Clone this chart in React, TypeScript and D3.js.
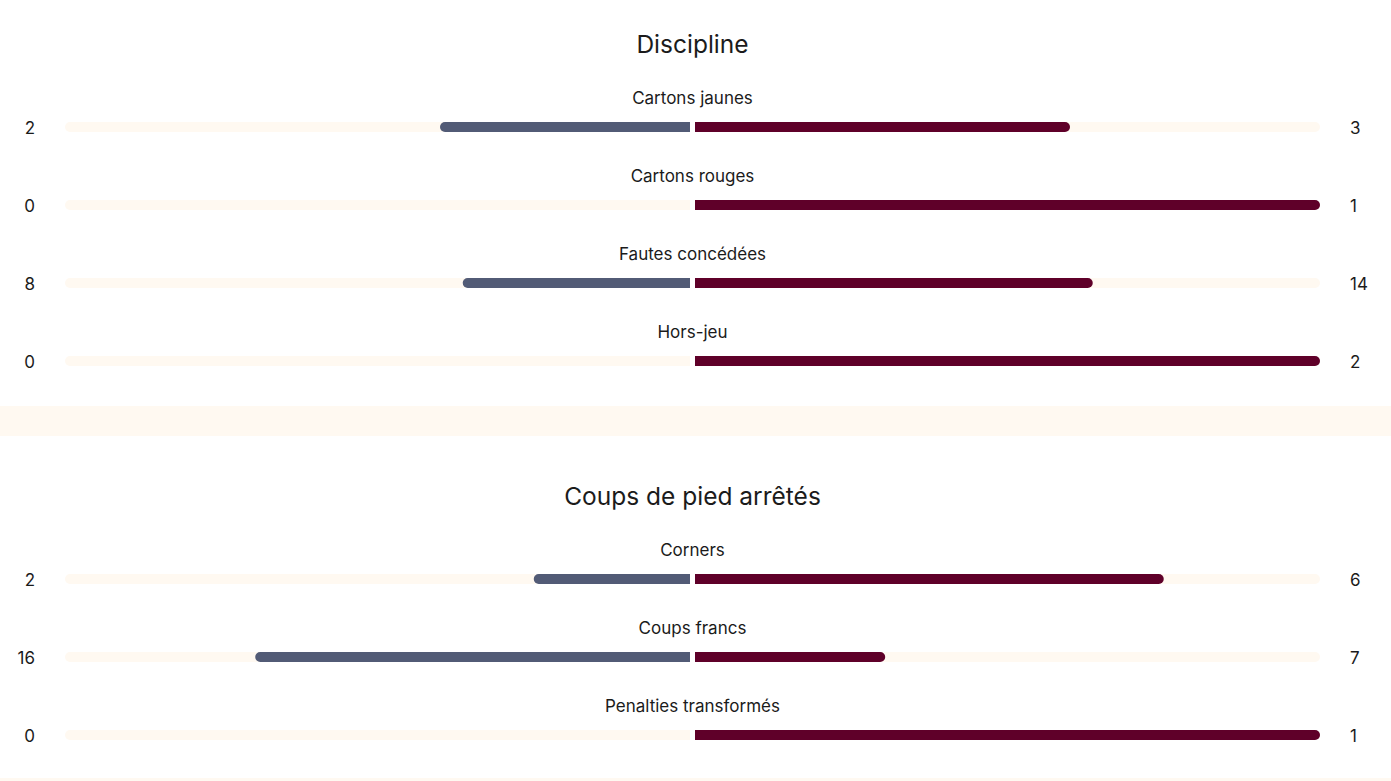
import React from "react";
import * as d3 from "d3";

const sections = ["Discipline", "Coups de pied arrêtés"];
const disciplineLabels = ["Cartons jaunes", "Cartons rouges", "Fautes concédées", "Hors-jeu"];
const disciplineHome = [2, 0, 8, 0];
const disciplineAway = [3, 1, 14, 2];
const setPieceLabels = ["Corners", "Coups francs", "Penalties transformés"];
const setPieceHome = [2, 16, 0];
const setPieceAway = [6, 7, 1];

const W = 1391;
const H = 781;
const GREY = "#525b76";
const MAROON = "#5f0029";
const TRACK = "#fff9f1";
const TEXT = "#1b1b1b";
const FONT = "Inter, 'Open Sans', sans-serif";

const LEFT_OUT = 65;
const LEFT_IN = 690;
const RIGHT_IN = 695;
const RIGHT_OUT = 1320;
const BAR_H = 10;
const R = 5;

const xLeft = d3.scaleLinear().domain([0, 1]).range([LEFT_IN, LEFT_OUT]);
const xRight = d3.scaleLinear().domain([0, 1]).range([RIGHT_IN, RIGHT_OUT]);

function leftBar(x0: number, x1: number, yc: number) {
  const p = d3.path();
  const t = yc - BAR_H / 2;
  const b = yc + BAR_H / 2;
  const r = Math.min(R, (x1 - x0) / 2);
  p.moveTo(x1, t);
  p.lineTo(x0 + r, t);
  p.arc(x0 + r, yc, BAR_H / 2, -Math.PI / 2, Math.PI / 2, true);
  p.lineTo(x1, b);
  p.closePath();
  return p.toString();
}
function rightBar(x0: number, x1: number, yc: number) {
  const p = d3.path();
  const t = yc - BAR_H / 2;
  const b = yc + BAR_H / 2;
  const r = Math.min(R, (x1 - x0) / 2);
  p.moveTo(x0, t);
  p.lineTo(x1 - r, t);
  p.arc(x1 - r, yc, BAR_H / 2, -Math.PI / 2, Math.PI / 2, false);
  p.lineTo(x0, b);
  p.closePath();
  return p.toString();
}

function Row({ label, home, away, y }: { label: string; home: number; away: number; y: number }) {
  const total = home + away;
  const hs = total ? home / total : 0;
  const as = total ? away / total : 0;
  const barY = y + 29;
  return (
    <g>
      <text x={692.5} y={y} textAnchor="middle" dominantBaseline="central" fontSize={17} fill={TEXT} fontFamily={FONT}>
        {label}
      </text>
      <path d={leftBar(xLeft(1), xLeft(0), barY)} fill={TRACK} />
      <path d={rightBar(xRight(0), xRight(1), barY)} fill={TRACK} />
      {home > 0 && <path d={leftBar(xLeft(hs), xLeft(0), barY)} fill={GREY} />}
      {away > 0 && <path d={rightBar(xRight(0), xRight(as), barY)} fill={MAROON} />}
      <text x={35} y={barY + 1} textAnchor="end" dominantBaseline="central" fontSize={17} fill={TEXT} fontFamily={FONT}>
        {home}
      </text>
      <text x={1350} y={barY + 1} textAnchor="start" dominantBaseline="central" fontSize={17} fill={TEXT} fontFamily={FONT}>
        {away}
      </text>
    </g>
  );
}

export default function App() {
  const rowGap = 78;
  return (
    <svg width={W} height={H} style={{ position: "absolute", left: 0, top: 0, background: "#fff" }}>
      <rect x={0} y={406} width={W} height={30} fill={TRACK} />
      <rect x={0} y={778} width={W} height={3} fill={TRACK} />
      <text x={692.5} y={44} textAnchor="middle" dominantBaseline="central" fontSize={24.5} fill={TEXT} fontFamily={FONT}>
        {sections[0]}
      </text>
      {disciplineLabels.map((l, i) => (
        <Row key={l} label={l} home={disciplineHome[i]} away={disciplineAway[i]} y={98 + i * rowGap} />
      ))}
      <text x={692.5} y={496} textAnchor="middle" dominantBaseline="central" fontSize={24.5} fill={TEXT} fontFamily={FONT}>
        {sections[1]}
      </text>
      {setPieceLabels.map((l, i) => (
        <Row key={l} label={l} home={setPieceHome[i]} away={setPieceAway[i]} y={550 + i * rowGap} />
      ))}
    </svg>
  );
}
